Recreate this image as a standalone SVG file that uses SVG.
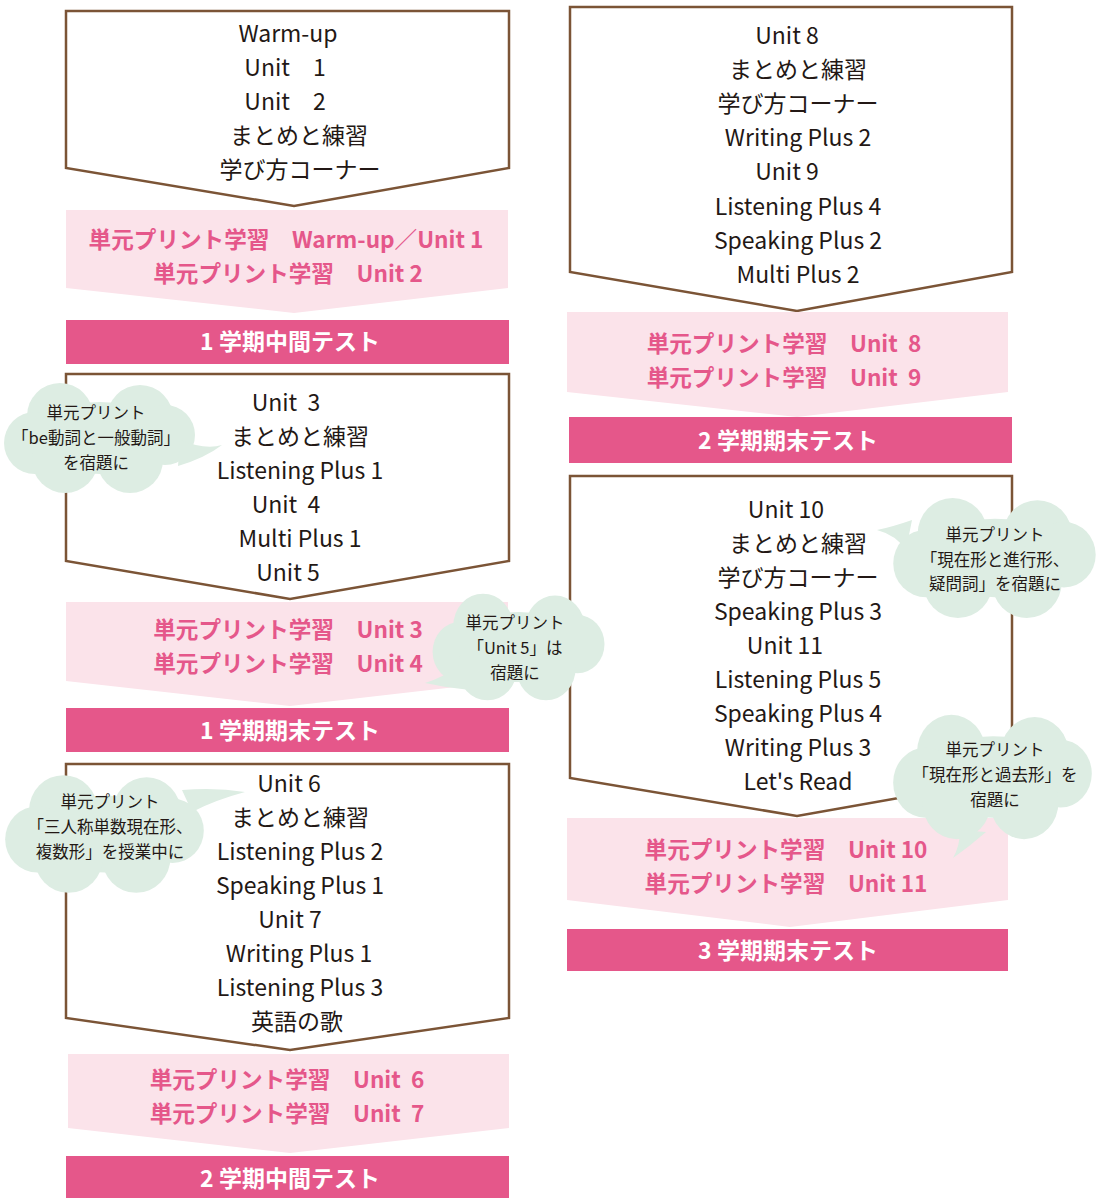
<svg xmlns="http://www.w3.org/2000/svg" xmlns:xlink="http://www.w3.org/1999/xlink" width="1096" height="1198" viewBox="0 0 1096 1198">
<style>
.box{fill:#fff;stroke:#7b5436;stroke-width:2.5;stroke-linejoin:miter}
.pink{fill:#fbe3ea}
.bar{fill:#e5578a}
text{transform:translateY(-1.5px)}
.t{font-family:"Noto Sans CJK JP","Noto Sans",sans-serif;font-size:23px;fill:#231815;text-anchor:middle;dominant-baseline:central}
.pt{font-family:"Noto Sans CJK JP","Noto Sans",sans-serif;font-size:22.6px;font-weight:bold;fill:#e5578a;text-anchor:middle;dominant-baseline:central;white-space:pre}
.bt{font-family:"Noto Sans CJK JP","Noto Sans",sans-serif;font-size:23px;font-weight:bold;fill:#fff;text-anchor:middle;dominant-baseline:central;white-space:pre}
.ct{font-family:"Noto Sans CJK JP","Noto Sans",sans-serif;font-size:16.5px;fill:#231815;text-anchor:middle;dominant-baseline:central}
.cloud{fill:#ddede3}
</style>
<defs>
<g id="cloudshape">
<ellipse cx="0" cy="0" rx="72" ry="36"/>
<circle cx="-40" cy="-22" r="33"/>
<circle cx="40" cy="-20" r="33"/>
<circle cx="-65" cy="5" r="31"/>
<circle cx="65" cy="-3" r="30"/>
<circle cx="-35" cy="22" r="33"/>
<circle cx="30" cy="22" r="33"/>
</g>
</defs>

<g id="connectors"></g>

<!-- Left column -->
<g id="box-l1">
<path class="box" d="M66,11 H509 V168 L294,206 L66,168 Z"/>
<text class="t" x="288" y="33">Warm-up</text>
<text class="t" x="285" y="67" xml:space="preserve">Unit　1</text>
<text class="t" x="285" y="101" xml:space="preserve">Unit　2</text>
<text class="t" x="299" y="135">まとめと練習</text>
<text class="t" x="300" y="169">学び方コーナー</text>
</g>
<g id="pink-l1">
<path class="pink" d="M66,210 H508 V288 L294,313 L66,288 Z"/>
<text class="pt" x="286" y="240">単元プリント学習　Warm-up／Unit 1</text>
<text class="pt" x="288" y="274">単元プリント学習　Unit 2</text>
</g>
<g id="bar-l1">
<rect class="bar" x="66" y="320" width="443" height="44"/>
<text class="bt" x="290" y="341">1 学期中間テスト</text>
</g>

<g id="box-l2">
<path class="box" d="M66,374 H509 V561 L290,599 L66,561 Z"/>
<text class="t" x="286" y="402" xml:space="preserve">Unit  3</text>
<text class="t" x="300" y="436">まとめと練習</text>
<text class="t" x="300" y="470">Listening Plus 1</text>
<text class="t" x="286" y="504" xml:space="preserve">Unit  4</text>
<text class="t" x="300" y="538">Multi Plus 1</text>
<text class="t" x="288" y="572">Unit 5</text>
</g>
<g id="pink-l2">
<path class="pink" d="M66,602 H508 V681 L290,706 L66,681 Z"/>
<text class="pt" x="288" y="630">単元プリント学習　Unit 3</text>
<text class="pt" x="288" y="664">単元プリント学習　Unit 4</text>
</g>
<g id="bar-l2">
<rect class="bar" x="66" y="708" width="443" height="44"/>
<text class="bt" x="290" y="730">1 学期期末テスト</text>
</g>

<g id="box-l3">
<path class="box" d="M66,764 H509 V1018 L290,1050 L66,1018 Z"/>
<text class="t" x="289" y="783">Unit 6</text>
<text class="t" x="300" y="817">まとめと練習</text>
<text class="t" x="300" y="851">Listening Plus 2</text>
<text class="t" x="300" y="885">Speaking Plus 1</text>
<text class="t" x="290" y="919">Unit 7</text>
<text class="t" x="299" y="953">Writing Plus 1</text>
<text class="t" x="300" y="987">Listening Plus 3</text>
<text class="t" x="297" y="1021">英語の歌</text>
</g>
<g id="pink-l3">
<path class="pink" d="M68,1054 H509 V1128 L290,1153 L68,1128 Z"/>
<text class="pt" x="287" y="1080" xml:space="preserve">単元プリント学習　Unit  6</text>
<text class="pt" x="287" y="1114" xml:space="preserve">単元プリント学習　Unit  7</text>
</g>
<g id="bar-l3">
<rect class="bar" x="66" y="1156" width="443" height="42"/>
<text class="bt" x="290" y="1178">2 学期中間テスト</text>
</g>

<!-- Right column -->
<g id="box-r1">
<path class="box" d="M570,7 H1012 V272 L797,311 L570,272 Z"/>
<text class="t" x="787" y="35">Unit 8</text>
<text class="t" x="798" y="69">まとめと練習</text>
<text class="t" x="798" y="103">学び方コーナー</text>
<text class="t" x="798" y="137">Writing Plus 2</text>
<text class="t" x="787" y="171">Unit 9</text>
<text class="t" x="798" y="206">Listening Plus 4</text>
<text class="t" x="798" y="240">Speaking Plus 2</text>
<text class="t" x="798" y="274">Multi Plus 2</text>
</g>
<g id="pink-r1">
<path class="pink" d="M567,312 H1008 V392 L797,417 L567,392 Z"/>
<text class="pt" x="784" y="344" xml:space="preserve">単元プリント学習　Unit  8</text>
<text class="pt" x="784" y="378" xml:space="preserve">単元プリント学習　Unit  9</text>
</g>
<g id="bar-r1">
<rect class="bar" x="569" y="417" width="443" height="46"/>
<text class="bt" x="788" y="440">2 学期期末テスト</text>
</g>

<g id="box-r2">
<path class="box" d="M570,476 H1012 V778 L797,816 L570,778 Z"/>
<text class="t" x="786" y="509">Unit 10</text>
<text class="t" x="798" y="543">まとめと練習</text>
<text class="t" x="798" y="577">学び方コーナー</text>
<text class="t" x="798" y="611">Speaking Plus 3</text>
<text class="t" x="785" y="645">Unit 11</text>
<text class="t" x="798" y="679">Listening Plus 5</text>
<text class="t" x="798" y="713">Speaking Plus 4</text>
<text class="t" x="798" y="747">Writing Plus 3</text>
<text class="t" x="798" y="781">Let's Read</text>
</g>
<g id="pink-r2">
<path class="pink" d="M567,818 H1008 V900 L790,927 L567,900 Z"/>
<text class="pt" x="786" y="850">単元プリント学習　Unit 10</text>
<text class="pt" x="786" y="884">単元プリント学習　Unit 11</text>
</g>
<g id="bar-r2">
<rect class="bar" x="567" y="929" width="441" height="42"/>
<text class="bt" x="788" y="950">3 学期期末テスト</text>
</g>

<!-- Speech bubbles -->
<g id="bubble-1" class="cloud">
<use xlink:href="#cloudshape" transform="translate(100,438)"/>
<path d="M180,440 Q205,450 222,445 Q205,458 178,466 Z"/>
<text class="ct" x="96" y="413">単元プリント</text>
<text class="ct" x="96" y="438">「be動詞と一般動詞」</text>
<text class="ct" x="96" y="463">を宿題に</text>
</g>
<g id="bubble-2" class="cloud">
<use xlink:href="#cloudshape" transform="translate(519,647) scale(0.9,0.97)"/>
<path d="M462,664 Q442,678 425,683 Q447,688 470,690 Z"/>
<text class="ct" x="515" y="623">単元プリント</text>
<text class="ct" x="515" y="648">「Unit 5」は</text>
<text class="ct" x="515" y="673">宿題に</text>
</g>
<g id="bubble-3" class="cloud">
<use xlink:href="#cloudshape" transform="translate(105,834) scale(1.04,1.07)"/>
<path d="M182,790 Q215,787 245,792 Q215,800 192,812 Z"/>
<text class="ct" x="110" y="802">単元プリント</text>
<text class="ct" x="110" y="827">「三人称単数現在形、</text>
<text class="ct" x="110" y="852">複数形」を授業中に</text>
</g>
<g id="bubble-4" class="cloud">
<use xlink:href="#cloudshape" transform="translate(995,558) scale(1.06,1.09)"/>
<path d="M912,520 Q892,527 877,530 Q896,535 906,550 Z"/>
<text class="ct" x="995" y="535">単元プリント</text>
<text class="ct" x="995" y="560">「現在形と進行形、</text>
<text class="ct" x="995" y="584">疑問詞」を宿題に</text>
</g>
<g id="bubble-5" class="cloud">
<use xlink:href="#cloudshape" transform="translate(993,777) scale(1.04,1.13)"/>
<path d="M960,830 Q960,846 953,858 Q970,846 986,832 Z"/>
<text class="ct" x="995" y="750">単元プリント</text>
<text class="ct" x="995" y="775">「現在形と過去形」を</text>
<text class="ct" x="995" y="800">宿題に</text>
</g>
</svg>
